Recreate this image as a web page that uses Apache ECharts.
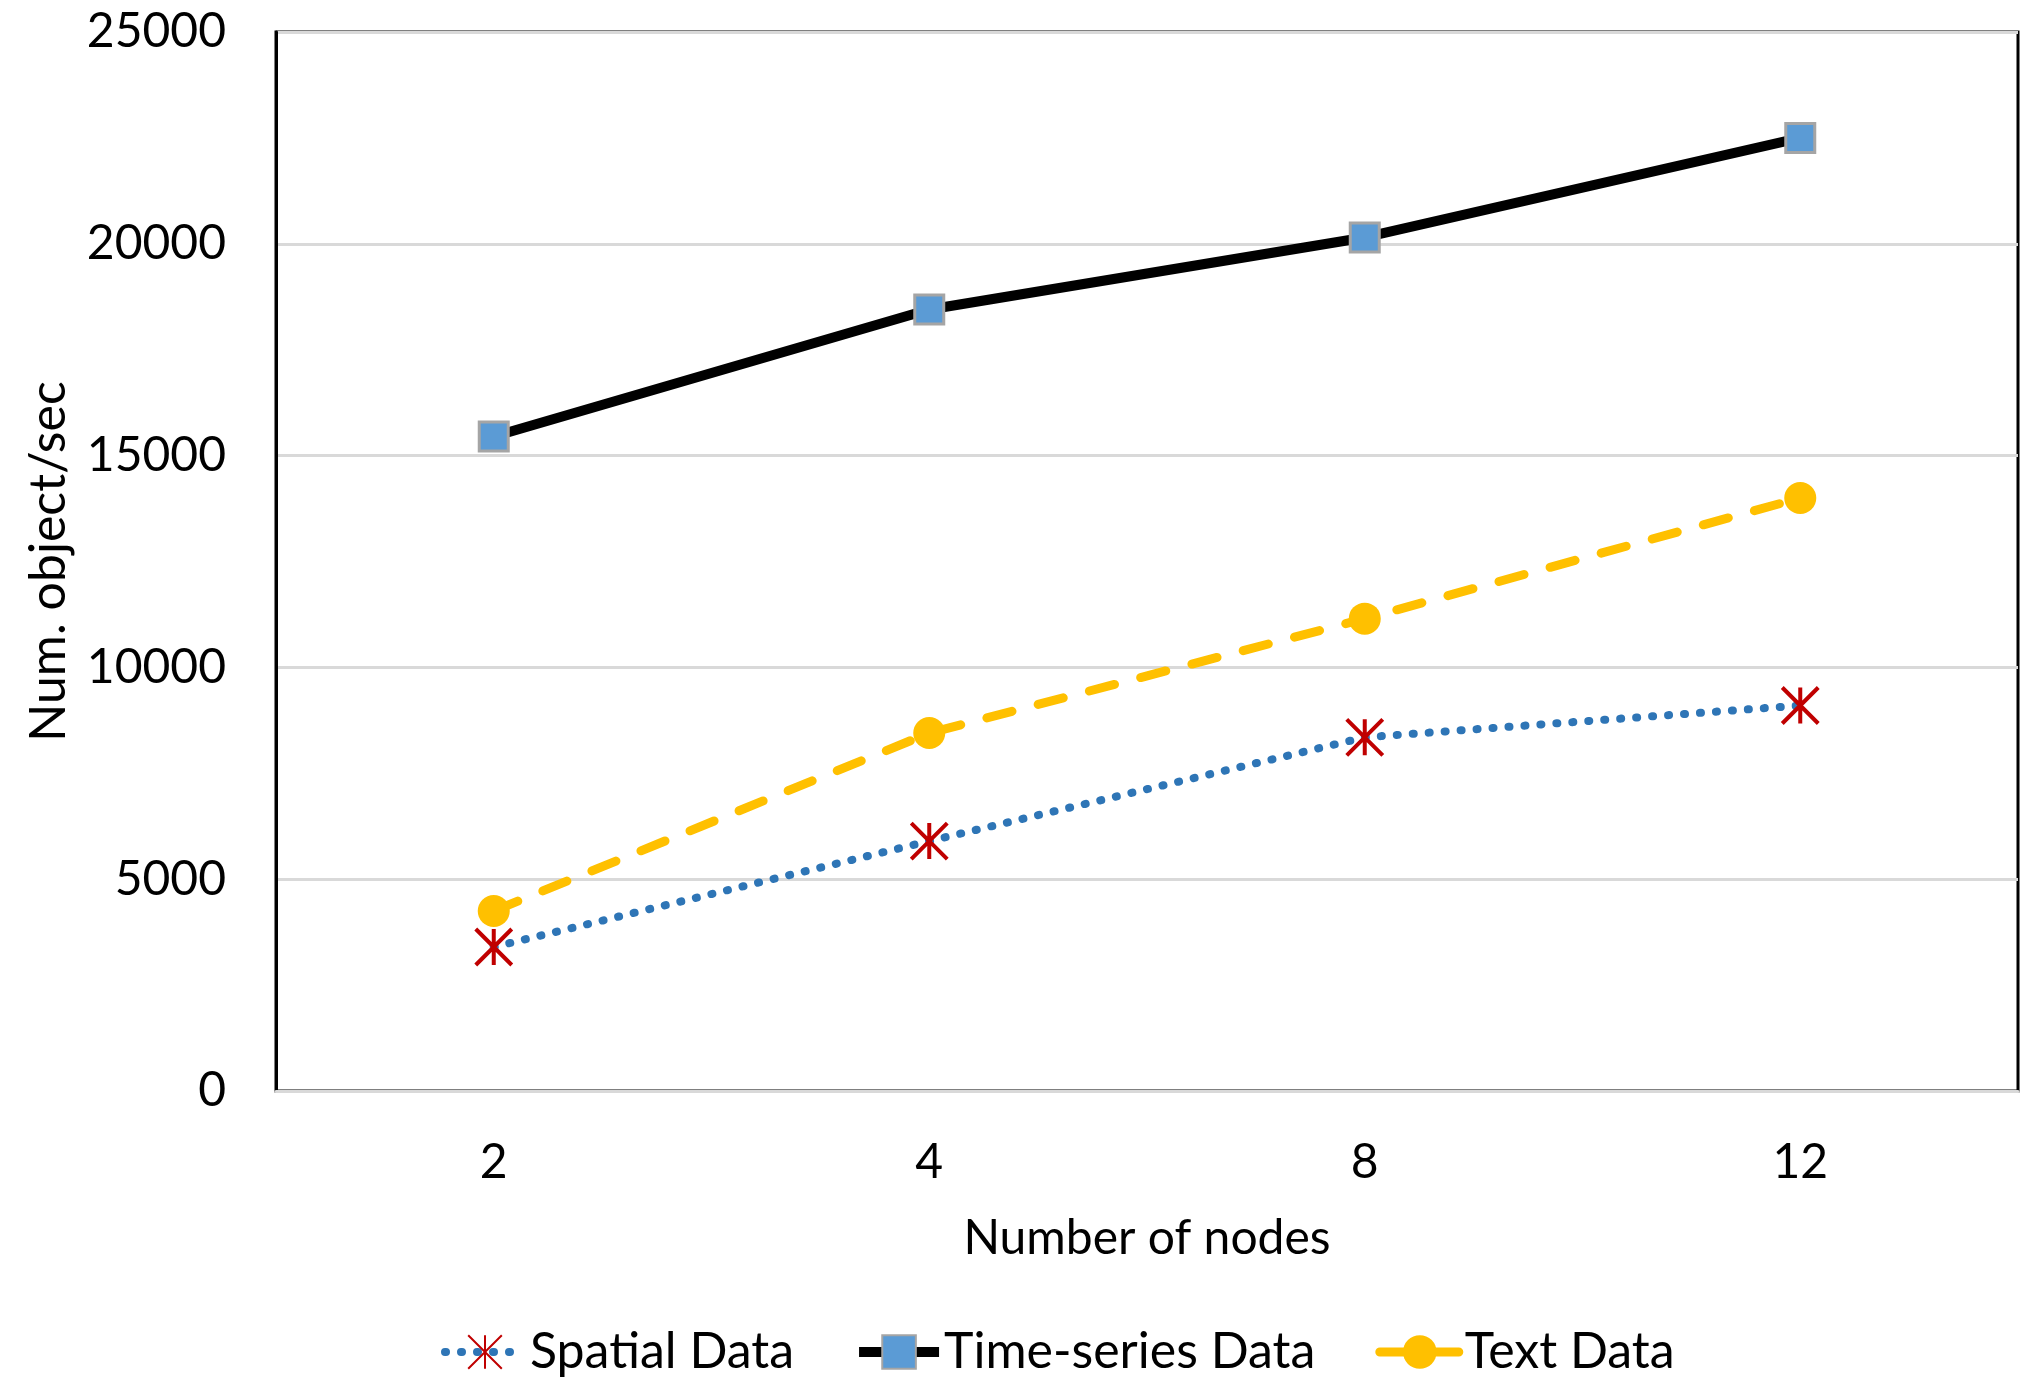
<!DOCTYPE html>
<html>
<head>
<meta charset="UTF-8">
<title>Num. object/sec</title>
<script src="https://cdn.jsdelivr.net/npm/echarts@6/dist/echarts.min.js"></script>
<style>
html, body { margin: 0; padding: 0; background: #fff; }
#main { width: 2040px; height: 1398px; }
</style>
</head>
<body>
<div id="main"></div>
<script type="text/javascript">
// data
var nodes = ['2', '4', '8', '12'];
var spatialData = [3400, 5900, 8350, 9100];
var timeSeriesData = [15450, 18450, 20150, 22500];
var textData = [4250, 8450, 11150, 14000];
var yTicks = { min: 0, max: 25000, step: 5000 };

var font = 'Lato, "Liberation Sans", sans-serif';
var myChart = echarts.init(document.getElementById('main'));

var option = {
    animation: false,
    backgroundColor: '#fff',
    textStyle: { fontFamily: font, color: '#000' },
    grid: {
        left: 276, right: 22, top: 32, bottom: 307,
        show: true,
        borderColor: '#000',
        borderWidth: 3
    },
    legend: {
        bottom: 16,
        left: 436,
        itemWidth: 80,
        itemHeight: 42,
        itemGap: 60,
        textStyle: { fontFamily: font, fontSize: 50, color: '#000' },
        data: [
            { name: 'Spatial Data', lineStyle: { width: 8 } },
            { name: 'Time-series Data', lineStyle: { width: 10 } },
            { name: 'Text Data', lineStyle: { width: 9 } }
        ]
    },
    xAxis: {
        type: 'category',
        data: nodes,
        boundaryGap: true,
        name: 'Number of nodes',
        nameLocation: 'middle',
        nameGap: 124,
        nameTextStyle: { fontFamily: font, fontSize: 48, color: '#000' },
        axisLine: { lineStyle: { color: '#d9d9d9', width: 3 } },
        axisTick: { show: false },
        axisLabel: { margin: 48, fontSize: 48, color: '#000', fontFamily: font }
    },
    yAxis: {
        type: 'value',
        min: yTicks.min,
        max: yTicks.max,
        interval: yTicks.step,
        name: 'Num. object/sec',
        nameLocation: 'middle',
        nameGap: 202,
        nameTextStyle: { fontFamily: font, fontSize: 50, color: '#000' },
        axisLine: { show: true, lineStyle: { color: '#000', width: 3 } },
        axisTick: { show: false },
        axisLabel: {
            margin: 50, fontSize: 48, color: '#000', fontFamily: font,
            formatter: function (v) { return String(v); }
        },
        splitLine: { lineStyle: { color: '#d9d9d9', width: 3 } }
    },
    series: [{
        name: 'Spatial Data',
        type: 'line',
        data: spatialData,
        symbol: 'path://M0,0L10,10M10,0L0,10M5,0L5,10',
        symbolSize: [36, 36],
        itemStyle: { color: '#C00000', borderColor: '#C00000', borderWidth: 4 },
        lineStyle: { color: '#2E75B6', width: 8, type: [1, 15], cap: 'round' },
        z: 3
    }, {
        name: 'Time-series Data',
        type: 'line',
        data: timeSeriesData,
        symbol: 'rect',
        symbolSize: 29,
        itemStyle: { color: '#5B9BD5', borderColor: '#A5A5A5', borderWidth: 3 },
        lineStyle: { color: '#000', width: 10 },
        z: 4
    }, {
        name: 'Text Data',
        type: 'line',
        data: textData,
        symbol: 'circle',
        symbolSize: 32,
        itemStyle: { color: '#FFC000', borderWidth: 0 },
        lineStyle: { color: '#FFC000', width: 9, type: [26, 27], cap: 'round' },
        z: 5
    }]
};
myChart.setOption(option);
</script>
</body>
</html>
